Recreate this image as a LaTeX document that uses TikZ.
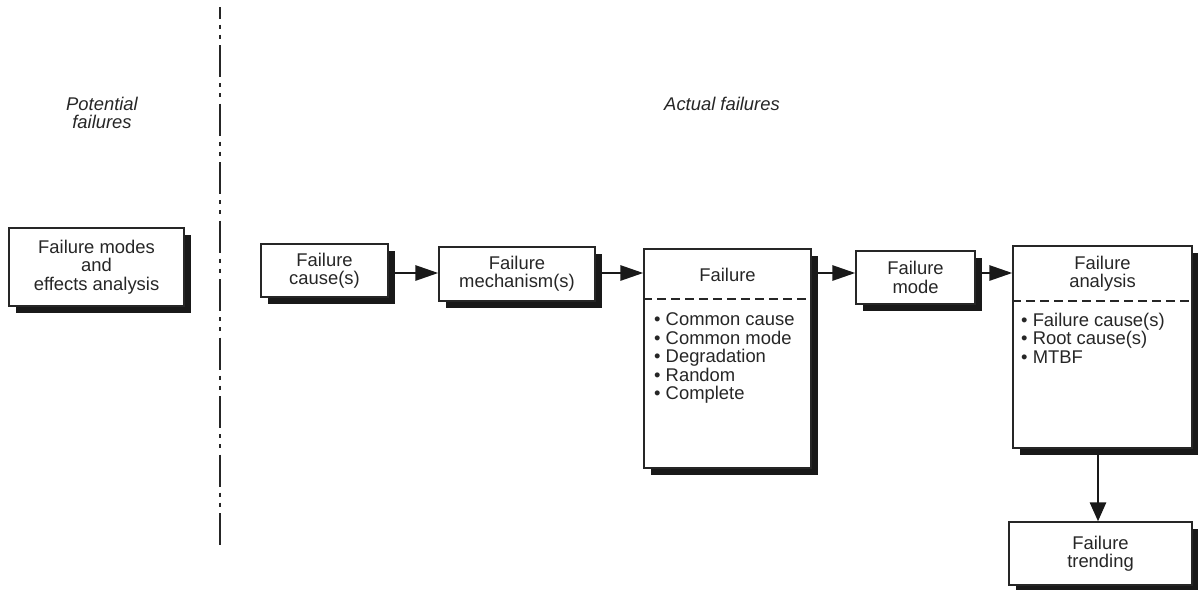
\documentclass[tikz,border=0pt]{standalone}
\usepackage{fontspec}
\setmainfont{Liberation Sans}
\usetikzlibrary{shadows,arrows.meta}
\begin{document}
\begin{tikzpicture}[x=1pt,y=-1pt,
  txt/.style={font=\fontsize{18.4}{18.4}\selectfont, inner sep=0pt, text=black!85},
  box/.style={draw=black!85, line width=1.3pt, fill=white, inner sep=0pt, align=center,
    font=\fontsize{18.4}{18.4}\selectfont, text=black!85,
    drop shadow={fill=black!90, opacity=1, shadow xshift=6.5pt, shadow yshift=-6.5pt}},
  flow/.style={line width=2.8pt, black!90, -{Triangle[length=23pt,width=15pt]}},
  sep/.style={line width=2pt, black!85, dash pattern=on 9pt off 5pt},
  bul/.style={txt, anchor=base west}]
\useasboundingbox (0,0) rectangle (1198,589);

% divider
\coordinate (dtop) at (220,7);
\coordinate (dbot) at (220,545);
\draw[line width=2.6pt, black!85, dash pattern=on 32pt off 6pt on 4pt off 6pt on 4pt off 6.5pt, dash phase=20.5pt] (dtop) -- (dbot);

% headings
\node[txt, align=center, font=\fontsize{18.4}{18.4}\selectfont\itshape] (pot) at (102,113) {Potential\\failures};
\node[txt, font=\fontsize{18.4}{18.4}\selectfont\itshape] (act) at (722,104) {Actual failures};

% boxes
\node[box, minimum width=175pt, minimum height=78pt] (fmea) at (96.5,267) {Failure modes\\and\\effects analysis};
\node[box, minimum width=127pt, minimum height=53pt] (cause) at (324.5,270.5) {Failure\\cause(s)};
\node[box, minimum width=156pt, minimum height=54pt] (mech) at (517,274) {Failure\\mechanism(s)};
\node[box, minimum width=167pt, minimum height=219pt] (fail) at (727.5,358.5) {};
\node[box, minimum width=119pt, minimum height=53pt] (mode) at (915.5,277.5) {Failure\\mode};
\node[box, minimum width=179pt, minimum height=202pt] (anal) at (1102.5,347) {};
\node[box, minimum width=183pt, minimum height=63pt] (trend) at (1100.5,553.5) {Failure\\trending};

% Failure box contents
\node[txt] (failt) at (727.5,275) {Failure};
\coordinate (fsep) at (0,299);
\draw[sep] (fail.west |- fsep) -- (fail.east |- fsep);
\node[bul] (f1) at (654,325.5) {• Common cause};
\node[bul] (f2) at (654,344.1) {• Common mode};
\node[bul] (f3) at (654,362.7) {• Degradation};
\node[bul] (f4) at (654,381.3) {• Random};
\node[bul] (f5) at (654,399.9) {• Complete};

% Failure analysis contents
\node[txt, align=center] (analt) at (1102.5,274) {Failure\\analysis};
\coordinate (asep) at (0,301);
\draw[sep] (anal.west |- asep) -- (anal.east |- asep);
\node[bul] (a1) at (1021,326.5) {• Failure cause(s)};
\node[bul] (a2) at (1021,344.9) {• Root cause(s)};
\node[bul] (a3) at (1021,363.3) {• MTBF};

% arrows
\coordinate (ay) at (0,273);
\draw[flow] (cause.east |- ay) -- (mech.west |- ay);
\draw[flow] (mech.east |- ay) -- (fail.west |- ay);
\draw[flow] (fail.east |- ay) -- (mode.west |- ay);
\draw[flow] (mode.east |- ay) -- (anal.west |- ay);
\coordinate (ax) at (1098,0);
\draw[line width=2.8pt, black!90, -{Triangle[length=19pt,width=16pt]}] (anal.south -| ax) -- (trend.north -| ax);
\end{tikzpicture}
\end{document}
